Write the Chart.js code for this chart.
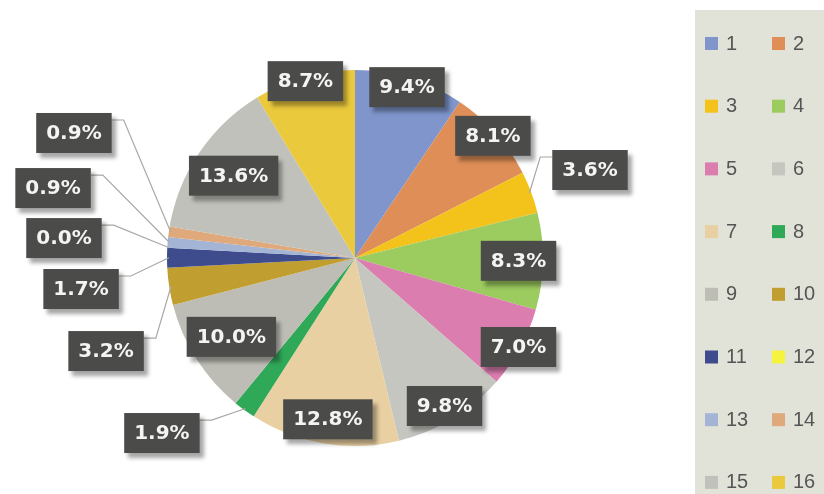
<!DOCTYPE html>
<html>
<head>
<meta charset="utf-8">
<script src="https://cdn.jsdelivr.net/npm/chart.js@4.4.1/dist/chart.umd.min.js"></script>
<style>
    html, body { margin: 0; padding: 0; background: #ffffff; }
    #contenedor { width: 824px; height: 494px; }
</style>
</head>
<body>
<div id="contenedor"><canvas id="graficoPastel" width="824" height="494"></canvas></div>
<script>
// datos (porcentajes, sentido horario desde arriba)
const categorias = ['1', '2', '3', '4', '5', '6', '7', '8', '9', '10', '11', '12', '13', '14', '15', '16'];
const porcentajes = [9.4, 8.1, 3.6, 8.3, 7.0, 9.8, 12.8, 1.9, 10.0, 3.2, 1.7, 0.0, 0.9, 0.9, 13.6, 8.7];

const colores = [
    '#7f95cc', '#de8e56', '#f3c31c', '#9ccb5f',
    '#dc7db0', '#c6c6c1', '#e9d0a2', '#2fa858',
    '#bdbdb6', '#c09e30', '#3e4c8e', '#f6f33f',
    '#a3b4d5', '#dfa97c', '#c1c1bb', '#ebc93c'
];

// donde va cada etiqueta: r = fraccion del radio (dentro), dx/dy = caja fuera con linea guia
const ubicacion = [
    { r: 0.95 }, { r: 0.98 }, { dx: 1.25, dy: -0.468 }, { r: 0.87 },
    { r: 0.99 }, { r: 0.92 }, { r: 0.87 }, { dx: -1.027, dy: 0.931 },
    { r: 0.78 }, { dx: -1.324, dy: 0.495 }, { dx: -1.457, dy: 0.165 }, { dx: -1.548, dy: -0.106 },
    { dx: -1.606, dy: -0.372 }, { dx: -1.495, dy: -0.665 }, { r: 0.78 }, { r: 0.977 }
];

document.addEventListener('DOMContentLoaded', function() {

    const etiquetas = {
        id: 'etiquetas',
        afterDatasetsDraw(chart) {
            const ctx = chart.ctx;
            const arcos = chart.getDatasetMeta(0).data;
            const cajas = [];
            ctx.save();
            ctx.font = 'bold 20px "DejaVu Sans"';
            arcos.forEach((arco, i) => {
                const p = arco.getProps(['x', 'y', 'startAngle', 'endAngle', 'outerRadius'], true);
                const medio = (p.startAngle + p.endAngle) / 2;
                const lugar = ubicacion[i];
                let cx, cy;
                if (lugar.r !== undefined) {
                    cx = p.x + Math.cos(medio) * lugar.r * p.outerRadius;
                    cy = p.y + Math.sin(medio) * lugar.r * p.outerRadius;
                } else {
                    cx = p.x + lugar.dx * p.outerRadius;
                    cy = p.y + lugar.dy * p.outerRadius;
                }
                const texto = porcentajes[i].toFixed(1) + '%';
                const w = ctx.measureText(texto).width + 20;
                const h = 40;
                const izq = cx - w / 2, arriba = cy - h / 2;
                cajas.push({ texto, izq, arriba, w, h, cx, cy });

                if (lugar.dx !== undefined) {
                    // linea guia
                    const bordeX = lugar.dx > 0 ? izq : izq + w;
                    const codoX = lugar.dx > 0 ? bordeX - 12 : bordeX + 12;
                    const yUnion = arriba + 7;
                    const fx = p.x + Math.cos(medio) * p.outerRadius * 0.99;
                    const fy = p.y + Math.sin(medio) * p.outerRadius * 0.99;
                    ctx.strokeStyle = '#a8a8a4';
                    ctx.lineWidth = 1.2;
                    ctx.beginPath();
                    ctx.moveTo(bordeX, yUnion);
                    ctx.lineTo(codoX, yUnion);
                    ctx.lineTo(fx, fy);
                    ctx.stroke();
                }
            });

            cajas.forEach(c => {
                ctx.save();
                ctx.shadowColor = 'rgba(0, 0, 0, 0.35)';
                ctx.shadowOffsetX = 4;
                ctx.shadowOffsetY = 5;
                ctx.shadowBlur = 4;
                ctx.fillStyle = '#4b4b4a';
                ctx.fillRect(c.izq, c.arriba, c.w, c.h);
                ctx.restore();
                ctx.fillStyle = '#f4f4f2';
                ctx.textAlign = 'center';
                ctx.textBaseline = 'middle';
                ctx.fillText(c.texto, c.cx, c.cy + 1);
            });
            ctx.restore();
        }
    };

    const leyenda = {
        id: 'leyenda',
        beforeDraw(chart) {
            const ctx = chart.ctx;
            ctx.save();
            ctx.fillStyle = '#e1e3d8';
            ctx.fillRect(695, 10, 129, 484);
            ctx.restore();
        },
        afterDraw(chart) {
            const ctx = chart.ctx;
            const fondo = chart.data.datasets[0].backgroundColor;
            ctx.save();
            ctx.font = '20px "Liberation Sans"';
            ctx.textBaseline = 'middle';
            ctx.textAlign = 'left';
            chart.data.labels.forEach((etiqueta, i) => {
                const col = i % 2;
                const fila = Math.floor(i / 2);
                const x = col === 0 ? 705 : 772;
                const y = 43 + fila * 62.7;
                ctx.fillStyle = fondo[i];
                ctx.fillRect(x, y - 6, 13, 13);
                ctx.fillStyle = '#555555';
                ctx.fillText(etiqueta, x + 21, y + 1);
            });
            ctx.restore();
        }
    };

    const dataConfig = {
        labels: categorias,
        datasets: [{
            data: porcentajes,
            backgroundColor: colores,
            borderWidth: 0,
            hoverOffset: 0
        }]
    };

    const config = {
        type: 'pie',
        data: dataConfig,
        options: {
            responsive: false,
            animation: false,
            layout: {
                padding: { left: 167, right: 281, top: 70, bottom: 48 }
            },
            plugins: {
                legend: { display: false },
                tooltip: { enabled: false }
            }
        },
        plugins: [leyenda, etiquetas]
    };

    var graficoPastel = new Chart(
        document.getElementById('graficoPastel'),
        config
    );
});
</script>
</body>
</html>
